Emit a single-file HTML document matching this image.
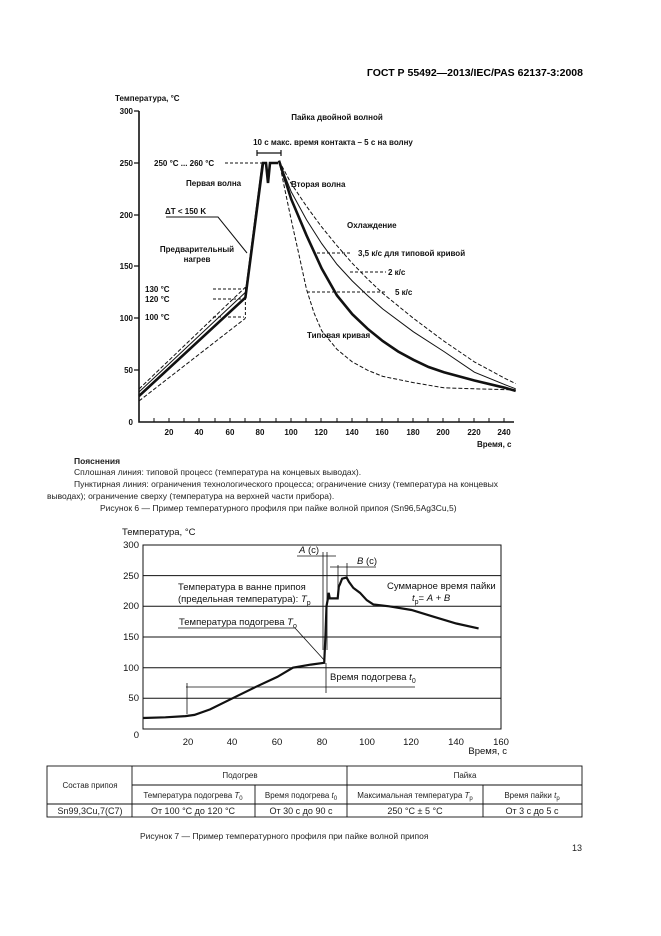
<!DOCTYPE html>
<html><head><meta charset="utf-8"><style>
html,body{margin:0;padding:0;background:#fff;}
body{width:661px;height:936px;overflow:hidden;}
svg{display:block;font-family:"Liberation Sans",sans-serif;}
.b{font-weight:bold;font-size:8px;fill:#111;}
.n{font-size:9.5px;fill:#111;}
.t{font-size:8.5px;fill:#222;}
</style></head><body>
<svg width="661" height="936" viewBox="0 0 661 936">
<text x="583" y="76" text-anchor="end" style="font-weight:bold;font-size:10.5px">ГОСТ Р 55492—2013/IEC/PAS 62137-3:2008</text>

<!-- TOP CHART -->
<g stroke="#111" fill="none">
<path d="M139 111V422H514" stroke-width="1.6"/>
<path d="M134 111H139M134 163H139M134 215H139M134 266H139M134 318H139M134 370H139" stroke-width="1.2"/>
<path d="M154 422v-4M169 422v-4M184 422v-4M199 422v-4M215 422v-4M230 422v-4M245 422v-4M260 422v-4M276 422v-4M291 422v-4M306 422v-4M321 422v-4M337 422v-4M352 422v-4M367 422v-4M382 422v-4M398 422v-4M413 422v-4M428 422v-4M443 422v-4M459 422v-4M474 422v-4M489 422v-4M504 422v-4" stroke-width="1"/>
<path d="M139 389L245.4 287.2" stroke-width="1" stroke-dasharray="4,2"/>
<path d="M139 392L245.4 292.4L262 163" stroke-width="1"/>
<path d="M139 396L245.4 297.6L263 163L266 163L268 183L270 163L278 163" stroke-width="2.6"/>
<path d="M139 401L245.4 318.3" stroke-width="1" stroke-dasharray="4,2"/>
<path d="M245.4 287V318" stroke-width="1" stroke-dasharray="3,2"/>
<path d="M279 160.7L291.2 199.1L306.5 235.3L321.7 268.5L337 295.5L352.3 314.2L367.5 328.7L382.8 341.1L398.1 351.5L413.4 359.8L428.6 367L443.9 372.2L474.4 380.5L505 387.8L515.7 390.9" stroke-width="2.6"/>
<path d="M279 160.7L291.2 191.8L306.5 219.8L321.7 243.6L337 264.4L352.3 281L367.5 295.5L382.8 309L413.4 331.8L443.9 351.5L474.4 372.2L505 384.7L515.7 388.8" stroke-width="1"/>
<path d="M279 160.7L291.2 183.5L306.5 206.3L321.7 227L337 245.7L352.3 263.3L367.5 278.9L382.8 293.4L413.4 318.3L443.9 341.1L474.4 361.9L505 378.4L515.7 383.6" stroke-width="1" stroke-dasharray="4,2"/>
<path d="M279 160.7L283.6 183.5L291.2 219.8L298.8 254L306.5 289.3L314.1 313.1L321.7 330.7L337 349.4L352.3 361.9L367.5 370.2L382.8 376.4L413.4 382.6L443.9 387.8L474.4 388.8L515.7 389.9" stroke-width="1" stroke-dasharray="4,2"/>
<path d="M225 163H262M213 289H244M213 299H244M213 317H244M317 253H352M350 272H386M307 292H385" stroke-width="1" stroke-dasharray="3,2"/>
<path d="M257 153H281M257 150V156M281 150V156" stroke-width="1.2"/>
<path d="M166 217H218L247 253" stroke-width="1"/>
</g>
<text class="b" x="115" y="101">Температура, °С</text>
<g class="b" text-anchor="end">
<text x="133" y="114">300</text><text x="133" y="166">250</text><text x="133" y="218">200</text><text x="133" y="269">150</text><text x="133" y="321">100</text><text x="133" y="373">50</text><text x="133" y="425">0</text>
</g>
<g class="b" text-anchor="middle">
<text x="169" y="435">20</text><text x="199" y="435">40</text><text x="230" y="435">60</text><text x="260" y="435">80</text><text x="291" y="435">100</text><text x="321" y="435">120</text><text x="352" y="435">140</text><text x="382" y="435">160</text><text x="413" y="435">180</text><text x="443" y="435">200</text><text x="474" y="435">220</text><text x="504" y="435">240</text>
<text x="337" y="120">Пайка двойной волной</text>
<text x="333" y="145">10 с макс. время контакта – 5 с на волну</text>
<text x="197" y="252">Предварительный</text><text x="197" y="262">нагрев</text>
</g>
<text class="b" x="477" y="447">Время, с</text>
<text class="b" x="154" y="166">250 °С ... 260 °С</text>
<text class="b" x="186" y="186">Первая волна</text>
<text class="b" x="291" y="187">Вторая волна</text>
<text class="b" x="165" y="214">ΔT &lt; 150 K</text>
<text class="b" x="347" y="228">Охлаждение</text>
<text class="b" x="358" y="256">3,5 к/с для типовой кривой</text>
<text class="b" x="388" y="275">2 к/с</text>
<text class="b" x="395" y="295">5 к/с</text>
<text class="b" x="145" y="292">130 °С</text>
<text class="b" x="145" y="302">120 °С</text>
<text class="b" x="145" y="320">100 °С</text>
<text class="b" x="307" y="338">Типовая кривая</text>

<text class="t" x="74" y="464" style="font-weight:bold">Пояснения</text>
<text class="t" x="74" y="475">Сплошная линия: типовой процесс (температура на концевых выводах).</text>
<text class="t" x="74" y="487">Пунктирная линия: ограничения технологического процесса; ограничение снизу (температура на концевых</text>
<text class="t" x="47" y="499">выводах); ограничение сверху (температура на верхней части прибора).</text>
<text class="t" x="100" y="511">Рисунок  6 — Пример температурного профиля при пайке волной припоя (Sn96,5Ag3Cu,5)</text>

<!-- BOTTOM CHART -->
<g stroke="#111" fill="none">
<rect x="143" y="545" width="358" height="184" stroke-width="1"/>
<path d="M143 698.3H501M143 667.7H501M143 637H501M143 606.3H501M143 575.6H501" stroke-width="1"/>
<path d="M143 718L165.4 717.3L185.5 716.1L194.5 714.9L210.1 709.4L232.5 698.3L254.9 687.3L277.3 676.9L292.9 667.7L310.8 664.6L324.2 662.8L325.4 637L326.5 606.3L327.6 600.2L328.7 592.8L329.8 598.4L335.4 598.4L337.7 598.4L338.8 586.7L339.9 584.3L342.1 578.7L346.6 577.5L348.9 581.8L353.3 587.9L360 592.8L366.8 600.2L373.5 604.5L389.1 606.3L411.5 610L433.9 616.8L456.3 623.5L478.6 628.4" stroke-width="2.2"/>
<path d="M187 683V714M326 663V693M186 687H415" stroke-width="0.8"/>
<path d="M323 552V650M327 552V650M338 565V598M347 563V580" stroke-width="0.8"/>
<path d="M297 556H336M330 567H376M178 628H295L325 661" stroke-width="0.8"/>
</g>
<text class="n" x="122" y="535">Температура, °С</text>
<g class="n" text-anchor="end">
<text x="139" y="548">300</text><text x="139" y="579">250</text><text x="139" y="609">200</text><text x="139" y="640">150</text><text x="139" y="671">100</text><text x="139" y="701">50</text><text x="139" y="738">0</text>
</g>
<g class="n" text-anchor="middle">
<text x="188" y="745">20</text><text x="232" y="745">40</text><text x="277" y="745">60</text><text x="322" y="745">80</text><text x="367" y="745">100</text><text x="411" y="745">120</text><text x="456" y="745">140</text><text x="501" y="745">160</text>
</g>
<text class="n" x="507" y="754" text-anchor="end">Время, с</text>
<text class="n" x="178" y="590">Температура в ванне припоя</text>
<text class="n" x="178" y="602">(предельная температура): <tspan font-style="italic">T</tspan><tspan font-size="7" dy="3">p</tspan></text>
<text class="n" x="387" y="589">Суммарное время пайки</text>
<text class="n" x="412" y="601"><tspan font-style="italic">t</tspan><tspan font-size="7" dy="3">p</tspan><tspan dy="-3">= </tspan><tspan font-style="italic">A</tspan> + <tspan font-style="italic">B</tspan></text>
<text class="n" x="179" y="625">Температура подогрева <tspan font-style="italic">T</tspan><tspan font-size="7" dy="3">o</tspan></text>
<text class="n" x="299" y="553"><tspan font-style="italic">A</tspan> (с)</text>
<text class="n" x="357" y="564"><tspan font-style="italic">B</tspan> (с)</text>
<text class="n" x="330" y="680">Время подогрева <tspan font-style="italic">t</tspan><tspan font-size="7" dy="3">0</tspan></text>

<!-- TABLE -->
<g stroke="#111" fill="none" stroke-width="0.9">
<rect x="47" y="766" width="535" height="51"/>
<path d="M132 766V817M347 766V817M132 785H582M47 804H582M255 785V817M483 785V817"/>
</g>
<g class="t" text-anchor="middle" style="font-size:8px">
<text x="90" y="788">Состав припоя</text>
<text x="240" y="778">Подогрев</text>
<text x="465" y="778">Пайка</text>
<text x="193" y="798">Температура подогрева <tspan font-style="italic">T</tspan><tspan font-size="6" dy="2">0</tspan></text>
<text x="301" y="798">Время подогрева <tspan font-style="italic">t</tspan><tspan font-size="6" dy="2">0</tspan></text>
<text x="415" y="798">Максимальная температура <tspan font-style="italic">T</tspan><tspan font-size="6" dy="2">p</tspan></text>
<text x="532" y="798">Время пайки <tspan font-style="italic">t</tspan><tspan font-size="6" dy="2">p</tspan></text>
</g>
<g class="t" text-anchor="middle" style="font-size:9px">
<text x="90" y="814">Sn99,3Cu,7(C7)</text>
<text x="193" y="814">От 100 °С до 120 °С</text>
<text x="301" y="814">От 30 с до 90 с</text>
<text x="415" y="814">250 °С ± 5 °С</text>
<text x="532" y="814">От 3 с до 5 с</text>
</g>
<text class="t" x="140" y="839">Рисунок  7 — Пример температурного профиля при пайке волной припоя</text>
<text class="t" x="572" y="851" style="font-size:9px">13</text>
</svg>
</body></html>
